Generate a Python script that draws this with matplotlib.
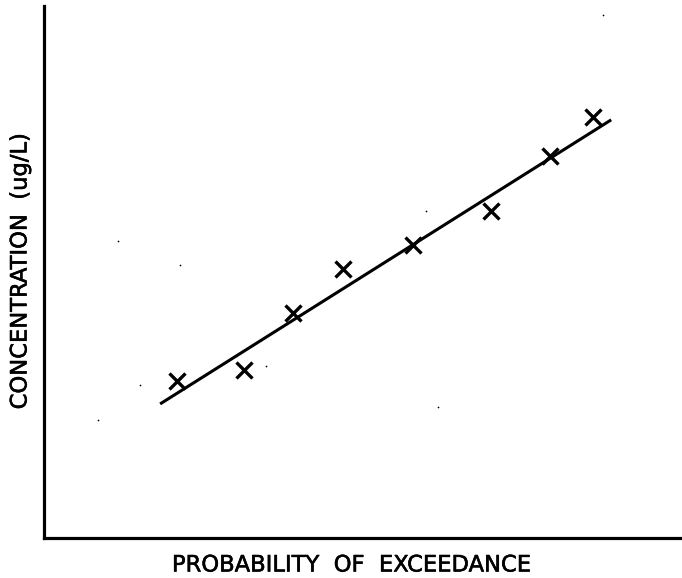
import numpy as np
import matplotlib.pyplot as plt
import matplotlib.patheffects as pe

# measured points (probability axis 0-100, concentration axis 0-100, no scale shown)
prob = [20.8, 31.3, 39.0, 46.9, 57.8, 70.1, 79.3, 86.1]
conc = [29.5, 31.6, 42.3, 50.6, 55.1, 61.5, 71.8, 79.1]

# fitted trend line end points
fit_x = [18.2, 88.9]
fit_y = [25.2, 78.6]

# scan specks in the original
speck_x = [87.6, 11.6, 21.3, 15.0, 8.5, 61.8, 59.9, 34.8]
speck_y = [98.3, 55.8, 51.3, 28.8, 22.2, 24.6, 61.5, 32.3]

W, H = 682, 578
fig = plt.figure(figsize=(W / 100, H / 100), dpi=100)
ax = fig.add_axes([44 / W, 40 / H, (W - 44) / W, 532 / H])
ax.set_xlim(0, 100)
ax.set_ylim(0, 100)

ax.plot(fit_x, fit_y, color='black', lw=2.2, solid_capstyle='butt')
ax.plot(prob, conc, ls='none', marker='x', ms=11, mew=2.4, color='black')
ax.scatter(speck_x, speck_y, s=1.5, color='black', lw=0)

for side in ['top', 'right']:
    ax.spines[side].set_visible(False)
for side in ['left', 'bottom']:
    ax.spines[side].set_linewidth(2.3)
ax.set_xticks([])
ax.set_yticks([])

thick = [pe.withStroke(linewidth=0.4, foreground='black')]
fig.text(352 / W, 1 - 565 / H, 'PROBABILITY  OF  EXCEEDANCE', ha='center', va='center',
         fontsize=16.3, family='DejaVu Sans', path_effects=thick)
fig.text(20 / W, 1 - 271 / H, 'CONCENTRATION  (ug/L)', ha='center', va='center',
         rotation=90, fontsize=16.3, family='DejaVu Sans', path_effects=thick)

fig.savefig('out.png', dpi=100)
